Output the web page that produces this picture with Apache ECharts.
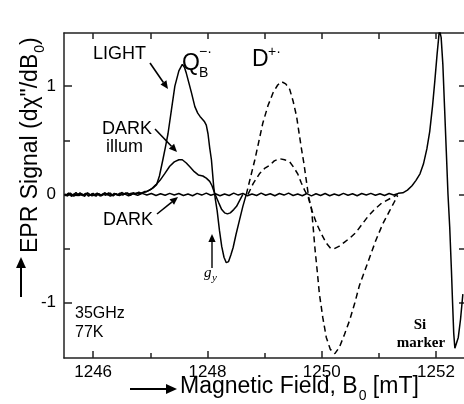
<!DOCTYPE html>
<html><head><meta charset="utf-8">
<script src="https://cdn.jsdelivr.net/npm/echarts@6/dist/echarts.min.js"></script>
<style>html,body{margin:0;padding:0;background:#fff}#c{width:464px;height:404px}</style>
</head><body><div id="c"></div>
<script>
// ---- data (magnetic field in mT, EPR signal) ----
const lightB = [1245.50,1245.55,1245.60,1245.65,1245.70,1245.75,1245.80,1245.85,1245.90,1245.95,1246.00,1246.05,1246.10,1246.15,1246.20,1246.25,1246.30,1246.35,1246.40,1246.45,1246.50,1246.55,1246.60,1246.65,1246.70,1246.75,1246.80,1246.85,1246.90,1246.95,1247.00,1247.05,1247.11,1247.16,1247.22,1247.27,1247.31,1247.37,1247.43,1247.50,1247.56,1247.60,1247.63,1247.68,1247.72,1247.78,1247.83,1247.87,1247.92,1247.95,1247.98,1248.01,1248.04,1248.07,1248.11,1248.14,1248.17,1248.21,1248.25,1248.29,1248.33,1248.37,1248.41,1248.45,1248.50,1248.56,1248.62,1248.68];
const lightS = [0.005,-0.015,0.012,-0.008,0.018,-0.012,0.006,-0.018,0.014,-0.006,0.010,-0.016,0.008,-0.010,0.016,-0.004,0.012,-0.014,0.008,-0.008,0.018,0.000,0.014,-0.010,0.016,0.004,0.020,0.010,0.026,0.030,0.045,0.060,0.090,0.170,0.320,0.450,0.560,0.780,1.000,1.140,1.200,1.170,1.120,1.020,0.940,0.810,0.750,0.720,0.690,0.670,0.640,0.560,0.430,0.320,0.070,-0.050,-0.150,-0.330,-0.480,-0.580,-0.630,-0.620,-0.560,-0.490,-0.370,-0.240,-0.110,0.000];

const illumB = [1245.52,1245.57,1245.62,1245.67,1245.72,1245.77,1245.82,1245.87,1245.92,1245.97,1246.02,1246.07,1246.12,1246.17,1246.22,1246.27,1246.32,1246.37,1246.42,1246.47,1246.52,1246.57,1246.62,1246.67,1246.72,1246.77,1246.82,1246.87,1246.92,1246.97,1247.02,1247.10,1247.17,1247.25,1247.34,1247.42,1247.50,1247.56,1247.63,1247.70,1247.77,1247.84,1247.92,1247.98,1248.04,1248.08,1248.12,1248.16,1248.20,1248.25,1248.30,1248.35,1248.40,1248.46,1248.51,1248.56,1248.62];
const illumS = [-0.010,0.012,-0.018,0.006,-0.012,0.014,-0.006,0.010,-0.016,0.004,-0.012,0.012,-0.014,0.006,-0.008,0.014,-0.010,0.010,-0.004,0.012,-0.006,0.014,0.002,0.012,0.006,0.014,0.008,0.018,0.022,0.035,0.050,0.090,0.130,0.190,0.260,0.300,0.320,0.320,0.290,0.250,0.210,0.180,0.170,0.150,0.120,0.080,0.020,-0.030,-0.080,-0.140,-0.170,-0.180,-0.170,-0.140,-0.110,-0.060,0.000];

const darkB = [1245.50,1245.58,1245.66,1245.74,1245.82,1245.90,1245.98,1246.06,1246.14,1246.22,1246.30,1246.38,1246.46,1246.54,1246.62,1246.70,1246.78,1246.86,1246.94,1247.02,1247.10,1247.18,1247.26,1247.34,1247.42,1247.50,1247.58,1247.66,1247.74,1247.82,1247.90,1247.98,1248.06,1248.14,1248.22,1248.30,1248.38,1248.46,1248.54,1248.62,1248.70,1248.78,1248.86,1248.94,1249.02,1249.10,1249.18,1249.26,1249.34,1249.42,1249.50,1249.58,1249.66,1249.74,1249.82,1249.90,1249.98,1250.06,1250.14,1250.22,1250.30,1250.38,1250.46,1250.54,1250.62,1250.70,1250.78,1250.86,1250.94,1251.02,1251.10,1251.18,1251.26,1251.34,
  1251.42,1251.50,1251.58,1251.65,1251.72,1251.78,1251.84,1251.89,1251.94,1251.98,1252.02,1252.06,1252.09,1252.12,1252.15,1252.18,1252.21,1252.24,1252.27,1252.29,1252.31,1252.33,1252.36,1252.39,1252.43,1252.47];
const darkS = [-0.012,0.008,-0.016,0.004,-0.010,0.012,-0.014,0.006,-0.012,0.010,-0.016,0.004,-0.010,0.008,-0.014,0.006,-0.008,0.010,-0.006,0.008,-0.010,0.006,-0.008,0.010,-0.006,0.008,-0.010,0.004,-0.012,0.010,-0.006,0.012,-0.008,0.006,-0.012,0.004,-0.010,0.012,-0.006,0.010,-0.012,0.004,-0.010,0.012,-0.008,0.006,-0.012,0.008,-0.006,0.012,-0.010,0.004,-0.012,0.008,-0.014,0.006,-0.010,0.008,-0.012,0.004,-0.010,0.010,-0.008,0.006,-0.012,0.008,-0.006,0.010,-0.008,0.006,-0.010,0.008,-0.006,0.010,
  0.015,0.040,0.080,0.130,0.190,0.280,0.420,0.580,0.820,1.050,1.300,1.520,1.450,1.200,0.800,0.400,0.000,-0.300,-0.700,-1.000,-1.280,-1.420,-1.420,-1.320,-1.150,-0.920];

const dLightB = [1248.68,1248.75,1248.83,1248.90,1248.97,1249.06,1249.15,1249.23,1249.30,1249.37,1249.44,1249.50,1249.56,1249.60,1249.64,1249.69,1249.73,1249.77,1249.82,1249.85,1249.88,1249.92,1249.96,1250.02,1250.08,1250.15,1250.23,1250.31,1250.40,1250.49,1250.58,1250.66,1250.75,1250.84,1250.95,1251.07,1251.19,1251.27,1251.33];
const dLightS = [0.00,0.15,0.32,0.49,0.66,0.82,0.94,1.01,1.04,1.02,0.97,0.86,0.72,0.58,0.44,0.28,0.13,-0.02,-0.13,-0.30,-0.49,-0.70,-0.92,-1.14,-1.32,-1.43,-1.47,-1.41,-1.29,-1.16,-1.00,-0.84,-0.71,-0.58,-0.42,-0.27,-0.15,-0.07,-0.01];

const dIllumB = [1248.71,1248.80,1248.91,1249.00,1249.09,1249.17,1249.26,1249.35,1249.44,1249.51,1249.58,1249.64,1249.70,1249.76,1249.83,1249.91,1250.00,1250.08,1250.16,1250.22,1250.30,1250.40,1250.50,1250.60,1250.70,1250.80,1250.92,1251.05,1251.19,1251.33];
const dIllumS = [0.00,0.10,0.19,0.24,0.27,0.31,0.33,0.32,0.30,0.25,0.19,0.11,0.04,-0.02,-0.15,-0.27,-0.37,-0.45,-0.50,-0.50,-0.48,-0.44,-0.40,-0.35,-0.28,-0.21,-0.14,-0.08,-0.04,0.00];

const xMajorTicks = [1246,1248,1250,1252];
const xMinorTicks = [1247,1249,1251];
const xAllTicks = [1246,1247,1248,1249,1250,1251,1252];
const yMajorTicks = [-1,0,1];
const yMinorTicks = [-0.5,0.5];
const yAllTicks = [-1,-0.5,0,0.5,1];
const xRange = [1245.49, 1252.49];
const yRange = [-1.51, 1.49];

// ---- build ----
const zip = (a,b) => a.map((v,i)=>[v,b[i]]);
const SANS = '"Liberation Sans", Arial, sans-serif';
const SERIF = '"Liberation Serif", "Times New Roman", serif';
const mctx = document.createElement('canvas').getContext('2d');
function tw(t, size, fam, extra){ mctx.font = (extra||'') + ' ' + size + 'px ' + fam; return mctx.measureText(t).width; }

const axisCol = '#222';
function xAx(pos, ticks, len, showLine, labels){
  return {type:'value', position:pos, min:xRange[0], max:xRange[1], gridIndex:0,
    axisLine:{show:showLine, onZero:false, lineStyle:{color:axisCol, width:1.5}},
    axisTick:{show:true, inside:true, length:len, customValues:ticks, lineStyle:{color:axisCol, width:1.5}},
    axisLabel:{show:!!labels, customValues:labels||[], margin:6, fontSize:17, color:'#000', fontFamily:SANS,
      formatter:(v)=>String(v)},
    splitLine:{show:false}};
}
function yAx(pos, ticks, len, showLine, labels){
  return {type:'value', position:pos, min:yRange[0], max:yRange[1], gridIndex:0,
    axisLine:{show:showLine, onZero:false, lineStyle:{color:axisCol, width:1.5}},
    axisTick:{show:true, inside:true, length:len, customValues:ticks, lineStyle:{color:axisCol, width:1.5}},
    axisLabel:{show:!!labels, customValues:labels||[], margin:8, fontSize:17, color:'#000', fontFamily:SANS,
      formatter:(v)=>String(v)},
    splitLine:{show:false}};
}

function lineSeries(b, s, dashed){
  return {type:'line', xAxisIndex:0, yAxisIndex:0, data:zip(b,s), showSymbol:false, symbol:'none',
    clip:true, smooth:false, animation:false,
    lineStyle:{color:'#000', width:1.5, type: dashed ? [6,4] : 'solid'}};
}

function arrow(x1,y1,x2,y2, head, w){
  head = head||8; w = w||1.6;
  const ang = Math.atan2(y2-y1, x2-x1);
  const hw = head*0.45;
  const bx = x2 - head*Math.cos(ang), by = y2 - head*Math.sin(ang);
  const px = -Math.sin(ang), py = Math.cos(ang);
  return [
    {type:'line', shape:{x1:x1,y1:y1,x2:bx,y2:by}, style:{stroke:'#000', lineWidth:w}, silent:true},
    {type:'polygon', shape:{points:[[x2,y2],[bx+px*hw,by+py*hw],[bx-px*hw,by-py*hw]]}, style:{fill:'#000'}, silent:true}
  ];
}
function txt(s, x, y, size, opts){
  opts = opts||{};
  return {type:'text', x:x, y:y, silent:true, style:{text:s, fontSize:size, fontFamily:opts.family||SANS,
    fontWeight:opts.weight||'normal', fontStyle:opts.style||'normal', fill:'#000',
    align:opts.align||'left', verticalAlign:'middle'}};
}

const g = [];
// labels
g.push(txt('LIGHT', 93, 54, 18));
g.push(...arrow(150, 63, 168, 89));
g.push(txt('DARK', 102, 129, 18));
g.push(txt('illum', 106, 147, 18));
g.push(...arrow(155, 129, 177, 152));
g.push(txt('DARK', 103, 220, 18));
g.push(...arrow(157, 214, 178, 197));
g.push(txt('35GHz', 75, 314, 16));
g.push(txt('77K', 75, 333, 16));
g.push(txt('Si', 420, 325, 15, {family:SERIF, weight:'bold', align:'center'}));
g.push(txt('marker', 421, 343, 15, {family:SERIF, weight:'bold', align:'center'}));
// g_y
g.push(txt('g', 204, 273, 15, {family:SERIF, style:'italic'}));
g.push(txt('y', 212, 278, 11, {family:SERIF, style:'italic'}));
g.push(...arrow(212, 268, 212, 234, 8, 1.4));
// Q_B
g.push(txt('Q', 182, 64, 23));
g.push(txt('B', 199, 73, 14));
g.push(txt('\u2212\u00b7', 199, 52, 14));
// D
g.push(txt('D', 252, 60, 23));
g.push(txt('+\u00b7', 268, 52, 14));

// x axis name
(function(){
  const x0 = 180, yc = 387, fs = 23;
  const t1 = 'Magnetic Field, B', t2 = ' [mT]';
  const w1 = tw(t1, fs, SANS);
  const w0 = tw('0', 14, SANS);
  g.push(txt(t1, x0, yc, fs));
  g.push(txt('0', x0 + w1 + 1, yc + 9, 14));
  g.push(txt(t2, x0 + w1 + w0 + 1, yc, fs));
  g.push(...arrow(130, yc + 2, 177, yc + 2, 11, 2));
})();
// y axis name (rotated)
(function(){
  const fs = 23;
  const t1 = 'EPR Signal (d\u03c7"/dB', t2 = ')';
  const w1 = tw(t1, fs, SANS), w0 = tw('0', 14, SANS);
  const children = [
    txt(t1, 0, 0, fs),
    txt('0', w1 + 1, 9, 14),
    txt(t2, w1 + w0 + 1, 0, fs)
  ];
  g.push({type:'group', x:31, y:253, rotation:Math.PI/2, children:children, silent:true});
  g.push(...arrow(21, 297, 21, 257, 11, 2));
})();

const chart = echarts.init(document.getElementById('c'), null, {renderer:'canvas'});
chart.setOption({
  animation:false,
  backgroundColor:'#fff',
  grid:{left:64, right:0, top:33, bottom:46, containLabel:false},
  xAxis:[
    xAx('bottom', xMajorTicks, 7, true, xMajorTicks),
    xAx('bottom', xMinorTicks, 5, false, null),
    xAx('top', xAllTicks, 6, true, null)
  ],
  yAxis:[
    yAx('left', yMajorTicks, 8, true, yMajorTicks),
    yAx('left', yMinorTicks, 6, false, null),
    yAx('right', yAllTicks, 5, false, null)
  ],
  series:[
    lineSeries(darkB, darkS, false),
    lineSeries(illumB, illumS, false),
    lineSeries(lightB, lightS, false),
    lineSeries(dIllumB, dIllumS, true),
    lineSeries(dLightB, dLightS, true)
  ],
  graphic:g
});
</script></body></html>
